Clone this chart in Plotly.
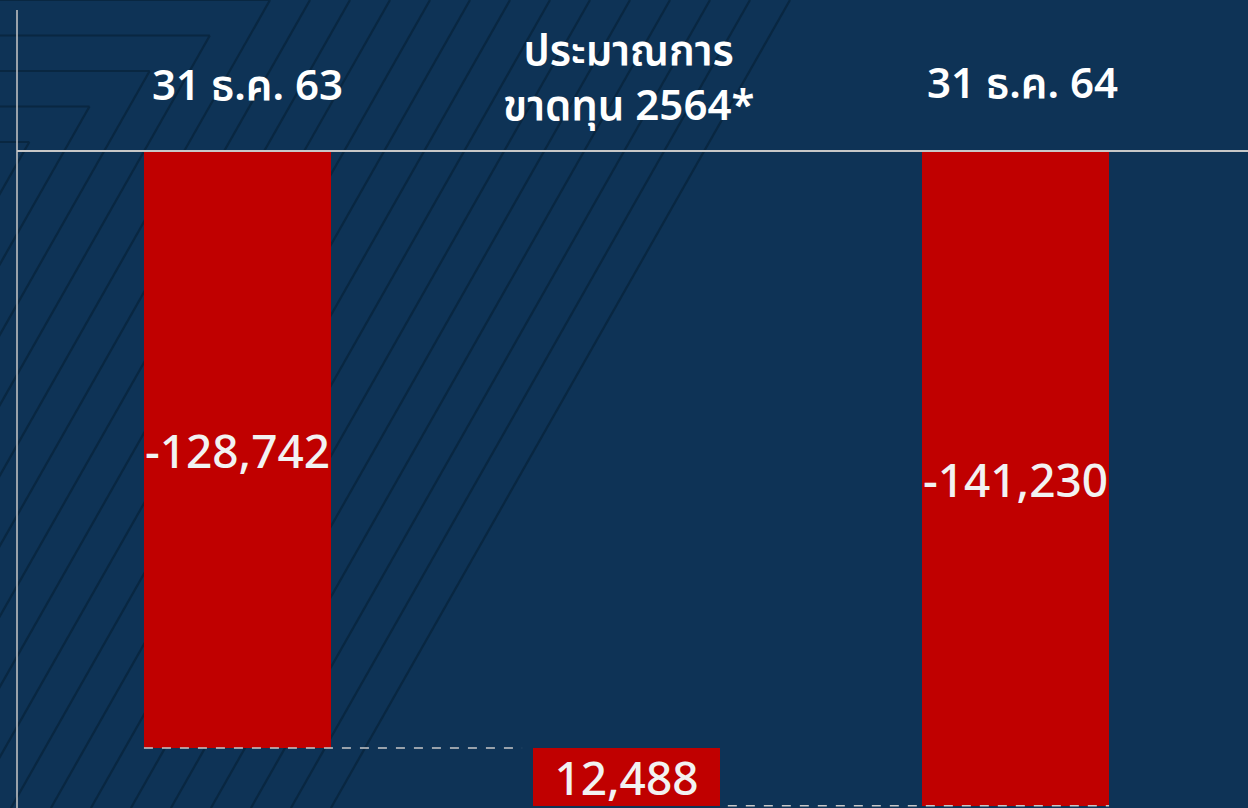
import plotly.graph_objects as go

# ---- data ----
categories = ["31 ธ.ค. 63", "ประมาณการ<br>ขาดทุน 2564*", "31 ธ.ค. 64"]
bar_values = [-128742, -12488, -141230]
bar_bases = [0, -128742, 0]
bar_labels = ["-128,742", "12,488", "-141,230"]

W, H = 1248, 808
L, T = 17, 152
PW, PH = W - L, H - T

NAVY = "#0e3356"
STRIPE = "#092741"
RED = "#c00000"
GREY = "#c8c8c8"


def px(x):
    return (x - L) / PW


def py(y):
    return (H - y) / PH


xpos = list(range(len(categories)))
bw = 0.481

fig = go.Figure()
fig.add_trace(go.Bar(
    x=xpos, y=bar_values, base=bar_bases, width=bw,
    marker=dict(color=RED, line=dict(width=0)),
    text=bar_labels, textposition="inside", insidetextanchor="middle",
    constraintext="none", textangle=0,
    textfont=dict(family="Noto Sans, Open Sans, sans-serif", size=46,
                  color="#f2f2f2", weight=500),
    hoverinfo="skip", showlegend=False,
))

shapes = []
# decorative stripes
slope = 1.76
for k in range(0, 18):
    top_x = 790 - 40 * k
    if k >= 13:
        y0 = 35.5 * (k - 13)
        x0 = top_x - y0 / slope
        shapes.append(dict(type="line", xref="paper", yref="paper",
                           x0=px(-5), y0=py(y0), x1=px(x0), y1=py(y0),
                           line=dict(color=STRIPE, width=2.2), layer="below"))
    else:
        y0 = 0
        x0 = top_x
    x1 = top_x - H / slope
    shapes.append(dict(type="line", xref="paper", yref="paper",
                       x0=px(x0), y0=py(y0), x1=px(x1), y1=py(H),
                       line=dict(color=STRIPE, width=2.2), layer="below"))

# vertical axis line on the left
shapes.append(dict(type="line", xref="paper", yref="paper",
                   x0=0, y0=0, x1=0, y1=py(10),
                   line=dict(color=GREY, width=1.5)))

# dashed connector lines
shapes.append(dict(type="line", xref="x", yref="y",
                   x0=0 - bw / 2, x1=1 - bw / 2 - 0.028,
                   y0=bar_bases[0] + bar_values[0], y1=bar_bases[0] + bar_values[0],
                   line=dict(color=GREY, width=1.5, dash="dash")))
shapes.append(dict(type="line", xref="x", yref="y",
                   x0=1 + bw / 2 + 0.02, x1=2 + bw / 2,
                   y0=bar_values[2], y1=bar_values[2],
                   line=dict(color=GREY, width=1.5, dash="dash")))

annotations = []
label_y = [84, 76, 81]
label_dx = [10, 2, 7]
for i, c in enumerate(categories):
    annotations.append(dict(
        x=xpos[i], xref="x", y=py(label_y[i]), yref="paper",
        xshift=label_dx[i],
        text=c, showarrow=False, xanchor="center", yanchor="middle",
        align="center",
        font=dict(family="Noto Sans, Noto Sans Thai, Tahoma, sans-serif",
                  size=42, color="white", weight=600),
    ))

fig.update_layout(
    width=W, height=H,
    margin=dict(l=L, r=0, t=T, b=0),
    paper_bgcolor=NAVY, plot_bgcolor="rgba(0,0,0,0)",
    shapes=shapes, annotations=annotations,
    bargap=0,
    xaxis=dict(range=[-0.5668, 2.5977], side="top", showline=True,
               linecolor=GREY, linewidth=1.5, showgrid=False, zeroline=False,
               showticklabels=False, ticks="", fixedrange=True),
    yaxis=dict(range=[-141700, 0], showgrid=False, zeroline=False,
               showticklabels=False, showline=False, ticks="", fixedrange=True),
)

fig.write_html("out.html")
